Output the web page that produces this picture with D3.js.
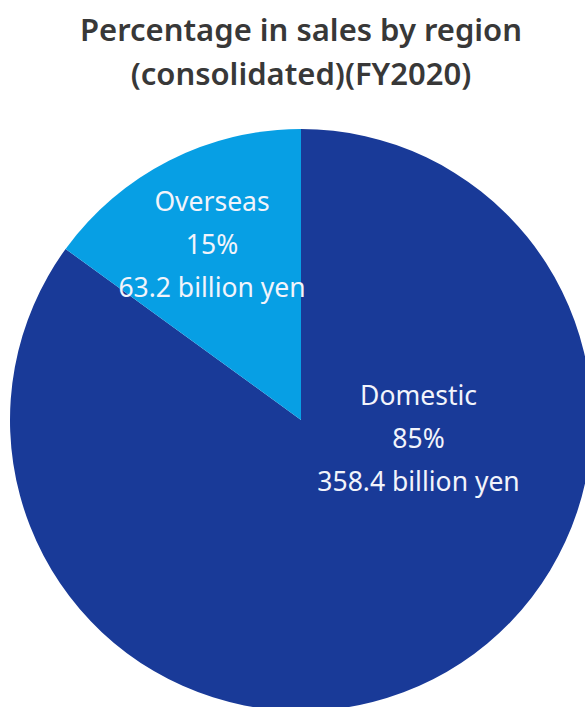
<!DOCTYPE html>
<html>
<head>
<meta charset="utf-8">
<script src="https://cdn.jsdelivr.net/npm/d3@7"></script>
<style>
  html, body { margin: 0; padding: 0; background: #fff; }
  svg { display: block; }
  text { font-family: "Noto Sans", "Open Sans", sans-serif; }
</style>
</head>
<body>
<svg class="chart"></svg>
<script>
const size = {w: 585, h: 707};

// chart data
const regions = ['Domestic', 'Overseas'];
const shares = [85, 15];
const amounts = ['358.4 billion yen', '63.2 billion yen'];
const titleLines = ['Percentage in sales by region', '(consolidated)(FY2020)'];

const colors = d3.scaleOrdinal()
    .domain(regions)
    .range(['#193a98', '#079fe4']);

// where the pie sits and where each label block goes
const center = {x: 301, y: 420};
const radius = 291;
const labelAngle = {Domestic: 99 * Math.PI / 180, Overseas: -27 * Math.PI / 180};
const labelRadius = {Domestic: 119, Overseas: 196};

const svg = d3.select('svg.chart')
    .attr('width', size.w)
    .attr('height', size.h);

svg.selectAll('text.title')
    .data(titleLines)
    .join('text')
    .classed('title', true)
    .attr('x', 301)
    .attr('y', (d, i) => 41 + i * 44)
    .attr('text-anchor', 'middle')
    .attr('font-size', 31)
    .attr('font-weight', 600)
    .attr('fill', '#383838')
    .text(d => d);

const data = regions.map((r, i) => ({region: r, share: shares[i], amount: amounts[i]}));

const pie = d3.pie()
    .sort(null)
    .value(d => d.share);

const arc = d3.arc()
    .innerRadius(0)
    .outerRadius(radius);

const g = svg.append('g')
    .attr('transform', `translate(${center.x},${center.y})`);

const slices = pie(data);

g.selectAll('path')
    .data(slices)
    .join('path')
    .attr('d', arc)
    .attr('fill', d => colors(d.data.region));

// label blocks: name, percent, amount
const labels = g.selectAll('g.label')
    .data(slices)
    .join('g')
    .classed('label', true)
    .attr('transform', d => {
        let a = labelAngle[d.data.region], r = labelRadius[d.data.region];
        return `translate(${Math.sin(a) * r},${-Math.cos(a) * r})`;
    });

labels.selectAll('text')
    .data(d => [d.data.region, d.data.share + '%', d.data.amount])
    .join('text')
    .attr('x', 0)
    .attr('y', (d, i) => (i - 1) * 43 + 9)
    .attr('text-anchor', 'middle')
    .attr('font-size', 26.5)
    .attr('fill', '#f2f4fb')
    .text(d => d);
</script>
</body>
</html>
